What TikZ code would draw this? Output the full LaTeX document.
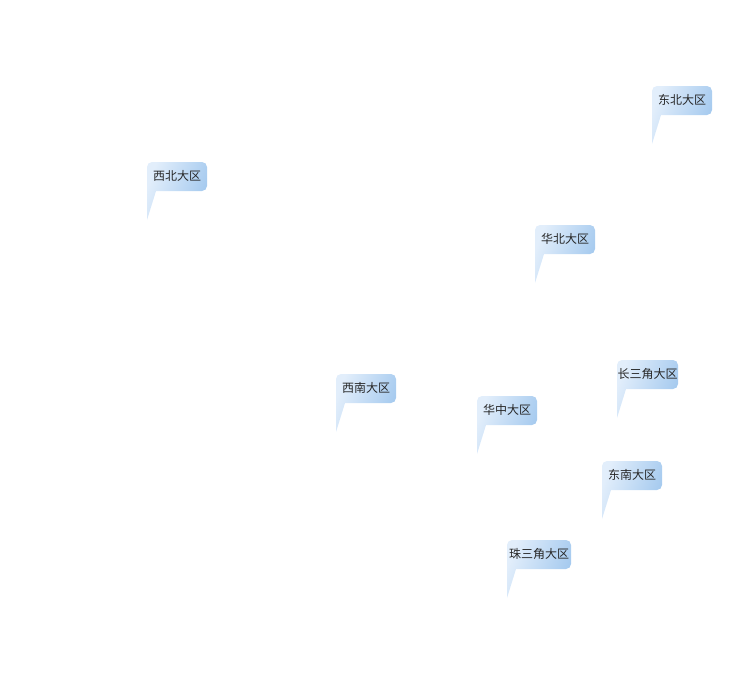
\documentclass[tikz,border=0pt]{standalone}
\usepackage{fontspec}
\newfontfamily\cjk{Noto Sans CJK SC}
\definecolor{calloutLight}{HTML}{E2EEFB}
\definecolor{calloutBlue}{HTML}{A2C8EE}
\colorlet{labelText}{black!85}
\tikzset{>=stealth}
\tikzset{regionlabel/.style={text=labelText, inner sep=0pt, font=\cjk\fontsize{12}{14}\selectfont}}
\tikzset{calloutfill/.style={left color=calloutLight, right color=calloutBlue, shading angle=70}}

\begin{document}
\begin{tikzpicture}[x=1pt,y=-1pt]
\useasboundingbox (0,0) rectangle (750,680);
\foreach \x/\y/\w/\n/\t in {147/162/60/xibei/西北大区, 652/86/60/dongbei/东北大区,
  535/225/60/huabei/华北大区, 617/360/61/changsanjiao/长三角大区,
  336/374/60/xinan/西南大区, 477/396/60/huazhong/华中大区,
  602/461/60/dongnan/东南大区, 507/540/64/zhusanjiao/珠三角大区}{
  \shade[calloutfill] (\x+9,\y+29) -- (\x,\y+58) -- (\x,\y+29)
    {[rounded corners=5pt] -- (\x,\y) -- (\x+\w,\y) -- (\x+\w,\y+29)} -- cycle;
  \node[regionlabel] (\n) at (\x+\w/2,\y+14) {\t};
}
\end{tikzpicture}
\end{document}
